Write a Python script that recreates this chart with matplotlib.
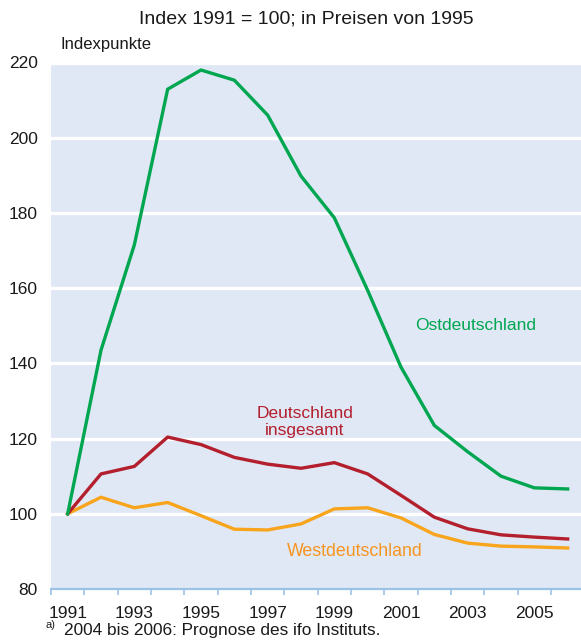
import numpy as np
import matplotlib.pyplot as plt
from matplotlib.ticker import FixedLocator, NullFormatter

plt.rcParams['font.family'] = ['Liberation Sans', 'DejaVu Sans']

# Daten (Index 1991 = 100)
years = np.arange(1991, 2007)
ost = [100, 143.5, 171.5, 212.9, 218.0, 215.3, 206.0, 189.8,
       178.7, 159.4, 139.0, 123.5, 116.5, 110.0, 106.9, 106.6]
gesamt = [100, 110.6, 112.6, 120.4, 118.4, 115.0, 113.2, 112.1,
          113.6, 110.6, 104.9, 99.1, 96.0, 94.4, 93.8, 93.3]
west = [100, 104.4, 101.6, 103.0, 99.5, 95.9, 95.7, 97.3,
        101.3, 101.6, 98.9, 94.5, 92.2, 91.4, 91.2, 90.9]
label_years = list(range(1991, 2006, 2))
y_ticks = list(range(80, 221, 20))

c_ost = '#00a650'
c_ges = '#b31f2d'
c_west = '#f8a51d'
c_west_txt = '#f7941e'
bg = '#e0e8f5'
axis_blue = '#9cc2e5'
txt = '#1a1a1a'

fig = plt.figure(figsize=(5.81, 6.43), dpi=100)
ax = fig.add_axes([51 / 581, 54 / 643, 530 / 581, 526.5 / 643])
ax.set_facecolor(bg)

for v in y_ticks[1:]:
    ax.axhline(v, color='white', lw=2.4, zorder=1)

ax.plot(years, west, color=c_west, lw=2.4, zorder=3)
ax.plot(years, gesamt, color=c_ges, lw=2.4, zorder=4)
ax.plot(years, ost, color=c_ost, lw=2.4, zorder=5)

ax.set_xlim(1990.5, 2006.4)
ax.set_ylim(80, 220)

for s in ['top', 'right', 'left']:
    ax.spines[s].set_visible(False)
ax.spines['bottom'].set_color(axis_blue)
ax.spines['bottom'].set_linewidth(1.6)

# Striche an den Jahresgrenzen, Beschriftung in der Jahresmitte
ax.xaxis.set_major_locator(FixedLocator(np.arange(1990.5, 2006.5, 1)))
ax.xaxis.set_major_formatter(NullFormatter())
ax.tick_params(axis='x', which='major', direction='out', length=4,
               width=1.2, color=axis_blue)
ax.set_xticks(label_years, [str(y) for y in label_years], minor=True)
ax.tick_params(axis='x', which='minor', length=0, pad=12.5, labelsize=12.5,
               labelcolor=txt)

ax.set_yticks(y_ticks, [str(v) for v in y_ticks])
ax.tick_params(axis='y', length=0, pad=9.5, labelsize=12.5, labelcolor=txt)


# Umrechnung Pixel (von oben links) -> Figurkoordinaten
def fx(px):
    return px / 581


def fy(py):
    return 1 - py / 643


fig.text(fx(476), fy(326), 'Ostdeutschland', color=c_ost, fontsize=12.5,
         ha='center', va='center')
fig.text(fx(305), fy(422), 'Deutschland\ninsgesamt', color=c_ges,
         fontsize=12.5, ha='center', va='center', linespacing=1.15)
fig.text(fx(355), fy(551), 'Westdeutschland', color=c_west_txt,
         fontsize=12.8, ha='center', va='center')

fig.text(fx(306), fy(19), 'Index 1991 = 100; in Preisen von 1995',
         ha='center', va='center', fontsize=14, color=txt)
fig.text(fx(60), fy(44), 'Indexpunkte', ha='left', va='center',
         fontsize=12, color=txt)
fig.text(fx(46), fy(625), 'a)', ha='left', va='center', fontsize=8,
         color=txt)
fig.text(fx(64), fy(631), '2004 bis 2006: Prognose des ifo Instituts.',
         ha='left', va='center', fontsize=12.4, color=txt)

fig.savefig('out.png', dpi=100)
